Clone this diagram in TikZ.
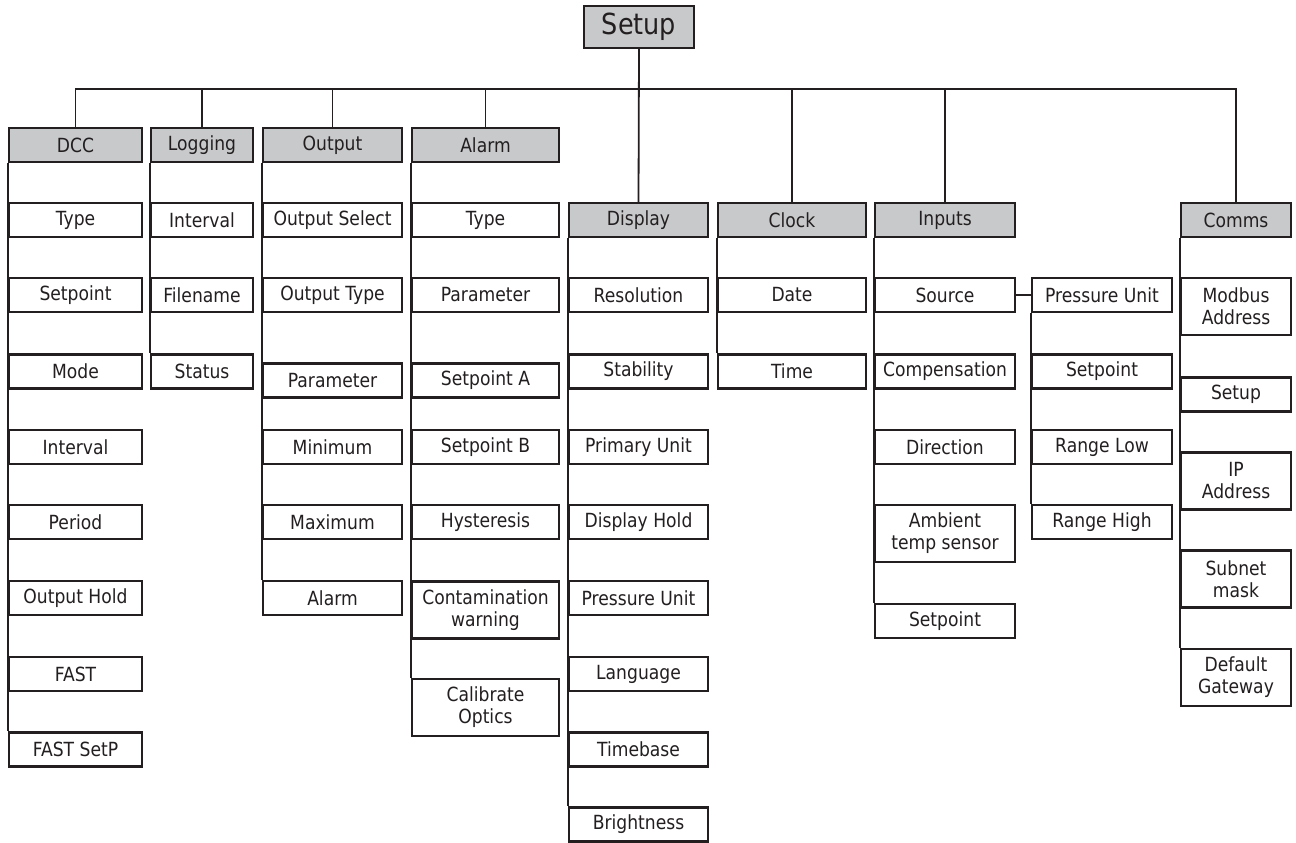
\documentclass[tikz,border=0pt]{standalone}
\usepackage{fontspec}
\setmainfont{DejaVu Sans}[FakeStretch=0.88]
\definecolor{ink}{HTML}{231F20}
\definecolor{hgray}{HTML}{C8C9CB}
\newcommand\fs{\fontsize{19.5}{22}\selectfont}
\newcommand\fsroot{\fontsize{29}{32}\selectfont}
\begin{document}
\begin{tikzpicture}[x=1pt,y=-1pt,
  base/.style={draw=ink, line width=2.2pt, inner sep=0pt, align=center, font=\fs, text=ink, minimum height=34},
  hdr/.style={base, fill=hgray},
  item/.style={base, fill=white},
  tall/.style={minimum height=57},
  wire/.style={draw=ink, line width=1.8pt},
  wDCC/.style={minimum width=133}, wLog/.style={minimum width=102},
  wOut/.style={minimum width=139}, wAl/.style={minimum width=147},
  wDis/.style={minimum width=139}, wClk/.style={minimum width=148},
  wIn/.style={minimum width=140}, wPU/.style={minimum width=140},
  wCom/.style={minimum width=110}]
\useasboundingbox (0,0) rectangle (1296,843);
% root
\node[hdr, font=\fsroot, minimum width=110, minimum height=42] (setup) at (639,27) {Setup};
% headers
\node[hdr,wDCC] (dcc) at (75.5,145) {DCC};
\node[hdr,wLog] (logging) at (202,145) {Logging};
\node[hdr,wOut] (output) at (332.5,145) {Output};
\node[hdr,wAl] (alarm) at (485.5,145) {Alarm};
\node[hdr,wDis] (display) at (638.5,220) {Display};
\node[hdr,wClk] (clock) at (792,220) {Clock};
\node[hdr,wIn] (inputs) at (945,220) {Inputs};
\node[hdr,wCom] (comms) at (1236,220) {Comms};
% DCC
\node[item,wDCC] (d1) at (75.5,220) {Type};
\node[item,wDCC] (d2) at (75.5,295) {Setpoint};
\node[item,wDCC] (d3) at (75.5,371.5) {Mode};
\node[item,wDCC] (d4) at (75.5,447) {Interval};
\node[item,wDCC] (d5) at (75.5,522) {Period};
\node[item,wDCC] (d6) at (75.5,598) {Output Hold};
\node[item,wDCC] (d7) at (75.5,674) {FAST};
\node[item,wDCC] (d8) at (75.5,749.5) {FAST SetP};
% Logging
\node[item,wLog] (l1) at (202,220) {Interval};
\node[item,wLog] (l2) at (202,295) {Filename};
\node[item,wLog] (l3) at (202,371.5) {Status};
% Output
\node[item,wOut] (o1) at (332.5,220) {Output Select};
\node[item,wOut] (o2) at (332.5,295) {Output Type};
\node[item,wOut] (o3) at (332.5,380.5) {Parameter};
\node[item,wOut] (o4) at (332.5,447) {Minimum};
\node[item,wOut] (o5) at (332.5,522) {Maximum};
\node[item,wOut] (o6) at (332.5,598) {Alarm};
% Alarm
\node[item,wAl] (a1) at (485.5,220) {Type};
\node[item,wAl] (a2) at (485.5,295) {Parameter};
\node[item,wAl] (a3) at (485.5,380.5) {Setpoint A};
\node[item,wAl] (a4) at (485.5,447) {Setpoint B};
\node[item,wAl] (a5) at (485.5,522) {Hysteresis};
\node[item,wAl,tall] (a6) at (485.5,610) {Contamination\\warning};
\node[item,wAl,tall] (a7) at (485.5,707.5) {Calibrate\\Optics};
% Display
\node[item,wDis] (s1) at (638.5,295) {Resolution};
\node[item,wDis] (s2) at (638.5,371.5) {Stability};
\node[item,wDis] (s3) at (638.5,447) {Primary Unit};
\node[item,wDis] (s4) at (638.5,522) {Display Hold};
\node[item,wDis] (s5) at (638.5,598) {Pressure Unit};
\node[item,wDis] (s6) at (638.5,674) {Language};
\node[item,wDis] (s7) at (638.5,749.5) {Timebase};
\node[item,wDis] (s8) at (638.5,824.5) {Brightness};
% Clock
\node[item,wClk] (c1) at (792,295) {Date};
\node[item,wClk] (c2) at (792,371.5) {Time};
% Inputs
\node[item,wIn] (i1) at (945,295) {Source};
\node[item,wIn] (i2) at (945,371.5) {Compensation};
\node[item,wIn] (i3) at (945,447) {Direction};
\node[item,wIn,tall] (i4) at (945,533.5) {Ambient\\temp sensor};
\node[item,wIn] (i5) at (945,621) {Setpoint};
% Source sub-items
\node[item,wPU] (p1) at (1102,295) {Pressure Unit};
\node[item,wPU] (p2) at (1102,371.5) {Setpoint};
\node[item,wPU] (p3) at (1102,447) {Range Low};
\node[item,wPU] (p4) at (1102,522) {Range High};
% Comms
\node[item,wCom,tall] (m1) at (1236,306.5) {Modbus\\Address};
\node[item,wCom] (m2) at (1236,394.5) {Setup};
\node[item,wCom,tall] (m3) at (1236,481) {IP\\Address};
\node[item,wCom,tall] (m4) at (1236,579) {Subnet\\mask};
\node[item,wCom,tall] (m5) at (1236,677.5) {Default\\Gateway};
% connectors
\coordinate (bus) at (0,89);
\draw[wire] (setup.south) -- (display.north);
\draw[wire] (dcc.north) |- (comms.north |- bus) -- (comms.north);
\foreach \n in {logging,output,alarm,clock,inputs}
  \draw[wire] (\n.north) -- (\n.north |- bus);
\draw[wire] (dcc.south west) -- (d8.north west);
\draw[wire] (logging.south west) -- (l3.north west);
\draw[wire] (output.south west) -- (o6.north west);
\draw[wire] (alarm.south west) -- (a7.north west);
\draw[wire] (display.south west) -- (s8.north west);
\draw[wire] (clock.south west) -- (c2.north west);
\draw[wire] (inputs.south west) -- (i5.north west);
\draw[wire] (i1.east) -- (p1.west);
\draw[wire] (p1.south west) -- (p4.north west);
\draw[wire] (comms.south west) -- (m5.north west);
\end{tikzpicture}
\end{document}
